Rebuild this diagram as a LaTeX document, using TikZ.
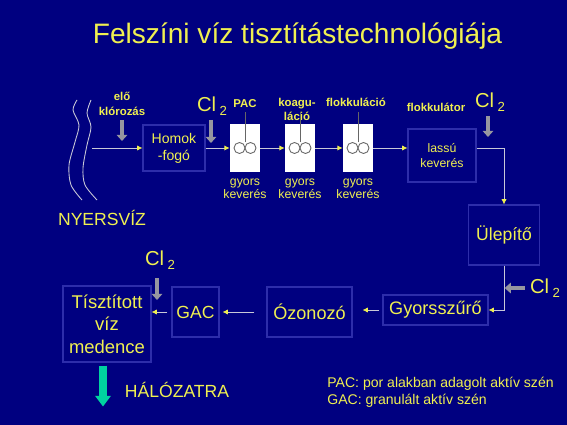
\documentclass[tikz,border=0pt]{standalone}
\usepackage{fontspec}
\setmainfont{Liberation Sans}
\usetikzlibrary{arrows.meta,positioning}

\definecolor{slide}{RGB}{0,0,128}
\definecolor{txtyellow}{RGB}{240,240,80}
\definecolor{boxblue}{RGB}{45,45,170}
\definecolor{pipegray}{RGB}{200,200,215}
\definecolor{dosegray}{RGB}{150,150,160}
\definecolor{outteal}{RGB}{0,210,160}

\tikzset{
    flow/.style={draw=pipegray, line width=0.5pt, -{Latex[length=3pt,width=3pt,color=txtyellow]}},
    dose/.style={draw=dosegray, line width=2.6pt, -{Triangle[length=3.5pt,width=6pt]}},
    outflow/.style={draw=outteal, line width=4.5pt, -{Triangle[length=6pt,width=8.5pt]}},
    unit/.style={draw=boxblue, line width=0.6pt},
    mixer/.style={fill=white, minimum width=0.6cm, minimum height=0.96cm},
}

\newcommand{\chlor}{Cl\kern2pt\raisebox{-2pt}{\fontsize{7.5}{8}\selectfont 2}}

\begin{document}
\begin{tikzpicture}[x=0.02cm, y=-0.02cm]

    \fill[slide] (0,0) rectangle (567,425);
    \useasboundingbox (0,0) rectangle (567,425);

    \begin{scope}[every node/.style={text=txtyellow, inner sep=0pt, align=center}]
        \node[font=\fontsize{16}{19}\selectfont, anchor=base] (title) at (297.5,44) {Felszíni víz tisztítástechnológiája};

        % upper line
        \node[unit, minimum width=1.24cm, minimum height=0.92cm, font=\fontsize{8}{9.6}\selectfont] (homok) at (174,148) {Homok\\-fogó};
        \node[mixer] (pac) at (245,148) {};
        \node[mixer] (koag) at (300,148) {};
        \node[mixer] (flokk) at (358,148) {};
        \node[unit, minimum width=1.36cm, minimum height=1.06cm, font=\fontsize{7}{8.5}\selectfont] (lassu) at (442,155.5) {lassú\\keverés};

        % lower line
        \node[unit, minimum width=1.42cm, minimum height=1.2cm, font=\fontsize{10}{12}\selectfont] (ulepito) at (504,235) {Ülepítő};
        \node[unit, minimum width=2.1cm, minimum height=0.6cm, font=\fontsize{10.3}{12}\selectfont] (gyors) at (435.5,310) {Gyorsszűrő};
        \node[unit, minimum width=1.7cm, minimum height=1.0cm, font=\fontsize{10.3}{12}\selectfont] (ozon) at (309.5,312) {Ózonozó};
        \node[unit, minimum width=0.94cm, minimum height=1.0cm, font=\fontsize{10}{12}\selectfont] (gac) at (195.5,312) {GAC};
        \node[unit, minimum width=1.76cm, minimum height=1.52cm, font=\fontsize{10.5}{12.8}\selectfont] (tiszt) at (107,324) {Tísztított\\víz\\medence};

        % labels
        \node[font=\fontsize{6.5}{8.5}\selectfont\bfseries] (elo) at (122,104) {elő\\klórozás};
        \node[font=\fontsize{11.5}{13}\selectfont] (cla) at (212,106) {\chlor};
        \node[font=\fontsize{6.5}{8}\selectfont\bfseries] (pacl) at (245,104) {PAC};
        \node[font=\fontsize{6.5}{8}\selectfont\bfseries] (koagl) at (297,109) {koagu-\\láció};
        \node[font=\fontsize{6.5}{8}\selectfont\bfseries] (flokkl) at (356,102) {flokkuláció};
        \node[font=\fontsize{6.5}{8}\selectfont\bfseries] (lassul) at (436,107) {flokkulátor};
        \node[font=\fontsize{11.5}{13}\selectfont] (clb) at (490,102) {\chlor};
        \node[font=\fontsize{11.5}{13}\selectfont] (clc) at (545,288) {\chlor};
        \node[font=\fontsize{11.5}{13}\selectfont] (cld) at (160,260) {\chlor};
        \foreach \m in {pac,koag,flokk}
            \node[font=\fontsize{7}{7.4}\selectfont, below=0.13cm of \m] (\m-note) {gyors\\keverés};
        \node[font=\fontsize{10}{12}\selectfont] (nyers) at (102,218) {NYERSVÍZ};
        \node[font=\fontsize{10}{12}\selectfont] (halo) at (177,390) {HÁLÓZATRA};
        \node[font=\fontsize{8}{9.6}\selectfont, align=left, anchor=west] (legend) at (327,392.5) {PAC: por alakban adagolt aktív szén\\GAC: granulált aktív szén};
    \end{scope}

    % raw water
    \draw[pipegray, line width=0.5pt] plot[smooth] coordinates {(77,100) (73,110) (79,125) (75,142) (69,165) (71,185) (82,200)};
    \draw[pipegray, line width=0.5pt] plot[smooth] coordinates {(91,100) (87,113) (91,127) (87,145) (83,168) (85,185) (97,200)};
    \coordinate (intake) at (92,148);

    % stirrers
    \foreach \m in {pac,koag,flokk} {
        \draw[gray!80!black, line width=0.5pt] (\m.center) ++(-5.5,0) circle[radius=0.11cm] ++(11,0) circle[radius=0.11cm];
        \draw[gray!80!black, line width=0.5pt] (\m.center) ++(0,-5.5) -- ++(0,-30);
    }

    % water flow
    \draw[flow] (intake) -- (homok);
    \draw[flow] (homok) -- (pac);
    \draw[flow] (pac) -- (koag);
    \draw[flow] (koag) -- (flokk);
    \draw[flow] (flokk) -- (flokk -| lassu.west);
    \draw[flow] (lassu.east |- flokk) -| (ulepito);
    \draw[flow] (ulepito) |- (gyors);
    \draw[flow, shorten <=0.06cm, shorten >=0.2cm] (gyors) -- (gyors -| ozon.east);
    \draw[flow, shorten <=0.24cm, shorten >=0.06cm] (ozon) -- (ozon -| gac.east);
    \draw[flow, shorten <=0.08cm] (gac) -- (gac -| tiszt.east);

    % dosing
    \draw[dose] (elo.south) ++(0,4) -- ++(0,21);
    \draw[dose] (211,120) -- ++(0,23);
    \draw[dose] (488,116) -- ++(0,21);
    \draw[dose] (clc.west) ++(-5,0) -- ++(-20,0);
    \draw[dose] (157,278) -- ++(0,22);
    \draw[outflow] (tiszt.south) ++(-4,3) -- ++(0,41);

\end{tikzpicture}
\end{document}
